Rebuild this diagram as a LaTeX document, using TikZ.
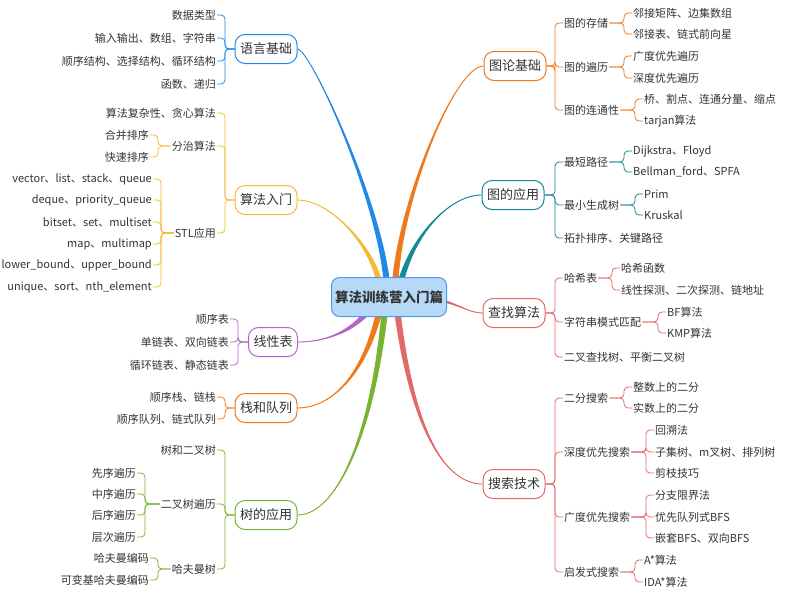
\documentclass[tikz,border=0pt]{standalone}
\usepackage{fontspec}
\setmainfont{Noto Sans CJK SC}
\usepackage{tikz}
\usetikzlibrary{calc}

\definecolor{txt}{HTML}{333333}
\definecolor{rootfill}{HTML}{B7D9F8}
\definecolor{rootline}{HTML}{4C9BE6}
\definecolor{cblue}{HTML}{2289E6}
\definecolor{cyellow}{HTML}{F6B935}
\definecolor{corange}{HTML}{EF7A1D}
\definecolor{cteal}{HTML}{14899A}
\definecolor{cpurple}{HTML}{B562CA}
\definecolor{cgreen}{HTML}{78B431}
\definecolor{cred}{HTML}{E06A6A}

\tikzset{
    root/.style={draw=rootline, fill=rootfill, line width=1pt, rounded corners=8pt,
        minimum width=115pt, minimum height=39pt, text=txt,
        font=\fontsize{13.5}{16}\selectfont\bfseries},
    topic/.style={draw=#1, fill=white, line width=1pt, rounded corners=10pt,
        minimum height=29pt, inner xsep=5pt, text=txt,
        font=\fontsize{13}{15}\selectfont},
    lleaf/.style={anchor=east, inner sep=1pt, text=txt, font=\fontsize{11}{13}\selectfont},
    rleaf/.style={anchor=west, inner sep=1pt, text=txt, font=\fontsize{11}{13}\selectfont},
    brace/.style={draw=#1, line width=0.8pt, rounded corners=4pt},
}

% parent on the right, children on the left
\newcommand{\leftbrak}[3]{%
    \foreach \kid in {#3}{\draw[brace=#1] (#2.west) -- ($(\kid.east |- #2.west)+(8,0)$) |- (\kid.east);}}
% parent on the left, children on the right
\newcommand{\rightbrak}[3]{%
    \foreach \kid in {#3}{\draw[brace=#1] (#2.east) -- ($(\kid.west |- #2.east)+(-8,0)$) |- (\kid.west);}}
% tapered branch: colour, start, control 1, control 2, end, half width
\newcommand{\mapbranch}[6]{%
    \fill[#1] ($#2+#6$) .. controls ($#3+0.6*#6$) and #4 .. #5
        .. controls #4 and ($#3-0.6*#6$) .. ($#2-#6$) -- cycle;
    \draw[#1, line width=0.9pt] ($#2$) .. controls #3 and #4 .. #5;}

\begin{document}
\begin{tikzpicture}[x=1pt, y=-1pt]
    % Layers
    \pgfdeclarelayer{back}
    \pgfsetlayers{back,main}

    \useasboundingbox (0,0) rectangle (798,595);

    \node[root] (root) at ({389}, {297}) {算法训练营入门篇};

    % 语言基础
    \node[topic=cblue] (lang) at ({266}, {49}) {语言基础};
    \node[lleaf] (lang1) at ({217}, {15}) {数据类型};
    \node[lleaf] (lang2) at ({217}, {38}) {输入输出、数组、字符串};
    \node[lleaf] (lang3) at ({217}, {61}) {顺序结构、选择结构、循环结构};
    \node[lleaf] (lang4) at ({217}, {84}) {函数、递归};
    \leftbrak{cblue}{lang}{lang1,lang2,lang3,lang4}

    % 算法入门
    \node[topic=cyellow] (intro) at ({266}, {200}) {算法入门};
    \node[lleaf] (intro1) at ({217}, {113}) {算法复杂性、贪心算法};
    \node[lleaf] (intro2) at ({217}, {146}) {分治算法};
    \node[lleaf] (intro3) at ({217}, {233}) {STL应用};
    \leftbrak{cyellow}{intro}{intro1,intro2,intro3}
    \node[lleaf] (dc1) at ({150}, {135}) {合并排序};
    \node[lleaf] (dc2) at ({150}, {157}) {快速排序};
    \leftbrak{cyellow}{intro2}{dc1,dc2}
    \node[lleaf] (stl1) at ({153}, {179}) {vector、list、stack、queue};
    \node[lleaf] (stl2) at ({153}, {200}) {deque、priority\_queue};
    \node[lleaf] (stl3) at ({153}, {222}) {bitset、set、multiset};
    \node[lleaf] (stl4) at ({153}, {244}) {map、multimap};
    \node[lleaf] (stl5) at ({153}, {265}) {lower\_bound、upper\_bound};
    \node[lleaf] (stl6) at ({153}, {287}) {unique、sort、nth\_element};
    \leftbrak{cyellow}{intro3}{stl1,stl2,stl3,stl4,stl5,stl6}

    % 线性表
    \node[topic=cpurple] (linear) at ({273}, {342}) {线性表};
    \node[lleaf] (lin1) at ({230}, {319}) {顺序表};
    \node[lleaf] (lin2) at ({230}, {342}) {单链表、双向链表};
    \node[lleaf] (lin3) at ({230}, {365}) {循环链表、静态链表};
    \leftbrak{cpurple}{linear}{lin1,lin2,lin3}

    % 栈和队列
    \node[topic=corange] (stack) at ({266}, {408}) {栈和队列};
    \node[lleaf] (stk1) at ({217}, {397}) {顺序栈、链栈};
    \node[lleaf] (stk2) at ({217}, {419}) {顺序队列、链式队列};
    \leftbrak{corange}{stack}{stk1,stk2}

    % 树的应用
    \node[topic=cgreen] (tree) at ({266}, {515}) {树的应用};
    \node[lleaf] (tr1) at ({217}, {450}) {树和二叉树};
    \node[lleaf] (tr2) at ({217}, {504}) {二叉树遍历};
    \node[lleaf] (tr3) at ({217}, {569}) {哈夫曼树};
    \leftbrak{cgreen}{tree}{tr1,tr2,tr3}
    \node[lleaf] (trv1) at ({137}, {473}) {先序遍历};
    \node[lleaf] (trv2) at ({137}, {494}) {中序遍历};
    \node[lleaf] (trv3) at ({137}, {515}) {后序遍历};
    \node[lleaf] (trv4) at ({137}, {537}) {层次遍历};
    \leftbrak{cgreen}{tr2}{trv1,trv2,trv3,trv4}
    \node[lleaf] (hf1) at ({150}, {558}) {哈夫曼编码};
    \node[lleaf] (hf2) at ({150}, {580}) {可变基哈夫曼编码};
    \leftbrak{cgreen}{tr3}{hf1,hf2}

    % 图论基础
    \node[topic=corange] (graph) at ({515}, {66}) {图论基础};
    \node[rleaf] (gr1) at ({563}, {23}) {图的存储};
    \node[rleaf] (gr2) at ({563}, {67}) {图的遍历};
    \node[rleaf] (gr3) at ({563}, {110}) {图的连通性};
    \rightbrak{corange}{graph}{gr1,gr2,gr3}
    \node[rleaf] (gs1) at ({632}, {13}) {邻接矩阵、边集数组};
    \node[rleaf] (gs2) at ({632}, {34}) {邻接表、链式前向星};
    \rightbrak{corange}{gr1}{gs1,gs2}
    \node[rleaf] (gt1) at ({632}, {56}) {广度优先遍历};
    \node[rleaf] (gt2) at ({632}, {78}) {深度优先遍历};
    \rightbrak{corange}{gr2}{gt1,gt2}
    \node[rleaf] (gc1) at ({643}, {99}) {桥、割点、连通分量、缩点};
    \node[rleaf] (gc2) at ({643}, {121}) {tarjan算法};
    \rightbrak{corange}{gr3}{gc1,gc2}

    % 图的应用
    \node[topic=cteal] (gapp) at ({513}, {195}) {图的应用};
    \node[rleaf] (ga1) at ({563}, {162}) {最短路径};
    \node[rleaf] (ga2) at ({563}, {205}) {最小生成树};
    \node[rleaf] (ga3) at ({563}, {238}) {拓扑排序、关键路径};
    \rightbrak{cteal}{gapp}{ga1,ga2,ga3}
    \node[rleaf] (sp1) at ({632}, {151}) {Dijkstra、Floyd};
    \node[rleaf] (sp2) at ({632}, {172}) {Bellman\_ford、SPFA};
    \rightbrak{cteal}{ga1}{sp1,sp2}
    \node[rleaf] (mst1) at ({643}, {194}) {Prim};
    \node[rleaf] (mst2) at ({643}, {215}) {Kruskal};
    \rightbrak{cteal}{ga2}{mst1,mst2}

    % 查找算法
    \node[topic=cred] (find) at ({514}, {313}) {查找算法};
    \node[rleaf] (fd1) at ({563}, {278}) {哈希表};
    \node[rleaf] (fd2) at ({563}, {322}) {字符串模式匹配};
    \node[rleaf] (fd3) at ({563}, {357}) {二叉查找树、平衡二叉树};
    \rightbrak{cred}{find}{fd1,fd2,fd3}
    \node[rleaf] (hs1) at ({620}, {268}) {哈希函数};
    \node[rleaf] (hs2) at ({620}, {290}) {线性探测、二次探测、链地址};
    \rightbrak{cred}{fd1}{hs1,hs2}
    \node[rleaf] (pm1) at ({666}, {312}) {BF算法};
    \node[rleaf] (pm2) at ({666}, {333}) {KMP算法};
    \rightbrak{cred}{fd2}{pm1,pm2}

    % 搜索技术
    \node[topic=cred] (search) at ({514}, {484}) {搜索技术};
    \node[rleaf] (sr1) at ({563}, {398}) {二分搜索};
    \node[rleaf] (sr2) at ({563}, {452}) {深度优先搜索};
    \node[rleaf] (sr3) at ({563}, {517}) {广度优先搜索};
    \node[rleaf] (sr4) at ({563}, {572}) {启发式搜索};
    \rightbrak{cred}{search}{sr1,sr2,sr3,sr4}
    \node[rleaf] (bs1) at ({632}, {387}) {整数上的二分};
    \node[rleaf] (bs2) at ({632}, {408}) {实数上的二分};
    \rightbrak{cred}{sr1}{bs1,bs2}
    \node[rleaf] (df1) at ({654}, {430}) {回溯法};
    \node[rleaf] (df2) at ({654}, {452}) {子集树、m叉树、排列树};
    \node[rleaf] (df3) at ({654}, {473}) {剪枝技巧};
    \rightbrak{cred}{sr2}{df1,df2,df3}
    \node[rleaf] (bf1) at ({654}, {495}) {分支限界法};
    \node[rleaf] (bf2) at ({654}, {517}) {优先队列式BFS};
    \node[rleaf] (bf3) at ({654}, {538}) {嵌套BFS、双向BFS};
    \rightbrak{cred}{sr3}{bf1,bf2,bf3}
    \node[rleaf] (hr1) at ({643}, {560}) {A*算法};
    \node[rleaf] (hr2) at ({643}, {582}) {IDA*算法};
    \rightbrak{cred}{sr4}{hr1,hr2}

    % Branches from the root
    \begin{pgfonlayer}{back}
        \mapbranch{cblue}{(root)+(-2,-12)}{(380,200)}{(310,49)}{(lang.east)}{(3.2,0)}
        \mapbranch{cyellow}{(root)+(-9,-12)}{(372,245)}{(330,200)}{(intro.east)}{(3.2,0)}
        \mapbranch{corange}{(root)+(6,-12)}{(400,200)}{(455,66)}{(graph.west)}{(3.2,0)}
        \mapbranch{cteal}{(root)+(11,-12)}{(412,235)}{(450,195)}{(gapp.west)}{(3.2,0)}
        \mapbranch{cpurple}{(root)+(-19,12)}{(350,335)}{(320,342)}{(linear.east)}{(2.4,1.8)}
        \mapbranch{corange}{(root)+(-9,12)}{(362,385)}{(325,408)}{(stack.east)}{(3.2,0)}
        \mapbranch{cgreen}{(root)+(-4,12)}{(372,440)}{(335,515)}{(tree.east)}{(3.2,0)}
        \mapbranch{cred}{(root)+(51,3)}{(460,305)}{(470,313)}{(find.west)}{(0,1.5)}
        \mapbranch{cred}{(root)+(8,12)}{(412,430)}{(445,484)}{(search.west)}{(3.2,0)}
    \end{pgfonlayer}
\end{tikzpicture}
\end{document}
